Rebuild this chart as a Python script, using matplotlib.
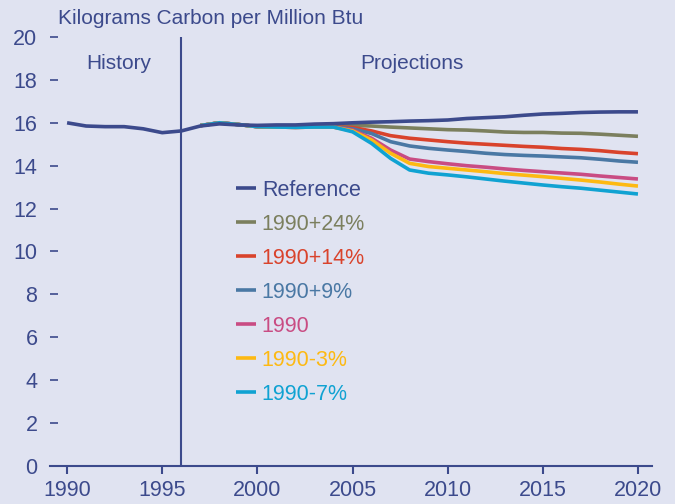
import matplotlib.pyplot as plt
import numpy as np

BG = '#e0e3f1'
NAVY = '#3c4a8c'

years_hist = np.arange(1990, 2021)
years_scen = np.arange(1997, 2021)

reference = [16.0, 15.85, 15.82, 15.82, 15.72, 15.54, 15.62, 15.85, 15.95, 15.9,
             15.88, 15.9, 15.9, 15.94, 15.96, 16.0, 16.03, 16.05, 16.08, 16.1,
             16.13, 16.2, 16.24, 16.28, 16.35, 16.41, 16.44, 16.48, 16.5, 16.51, 16.51]

common = [15.87, 16.0, 15.92, 15.82, 15.8, 15.79, 15.8, 15.8]  # 1997-2004
plus24 = common + [15.88, 15.85, 15.8, 15.76, 15.72, 15.68, 15.66, 15.62, 15.57,
                   15.55, 15.55, 15.52, 15.51, 15.47, 15.42, 15.37]
plus14 = common + [15.78, 15.62, 15.4, 15.28, 15.2, 15.12, 15.05, 15.0, 14.95,
                   14.9, 14.86, 14.8, 14.76, 14.7, 14.62, 14.56]
plus9 = common + [15.72, 15.5, 15.12, 14.92, 14.81, 14.73, 14.66, 14.58, 14.52,
                  14.48, 14.45, 14.41, 14.37, 14.3, 14.22, 14.16]
base1990 = common + [15.66, 15.28, 14.73, 14.31, 14.19, 14.09, 14.0, 13.93, 13.85,
                     13.78, 13.72, 13.66, 13.6, 13.52, 13.45, 13.38]
minus3 = common + [15.62, 15.2, 14.58, 14.11, 13.96, 13.88, 13.8, 13.72, 13.63,
                   13.56, 13.49, 13.41, 13.33, 13.24, 13.14, 13.05]
minus7 = common + [15.58, 15.04, 14.34, 13.8, 13.65, 13.57, 13.48, 13.38, 13.28,
                   13.19, 13.1, 13.02, 12.95, 12.86, 12.77, 12.68]

scenarios = [
    ('1990+24%', plus24, '#7b7f5e'),
    ('1990+14%', plus14, '#d9432c'),
    ('1990+9%', plus9, '#4a78a4'),
    ('1990', base1990, '#c94c83'),
    ('1990-3%', minus3, '#fdb913'),
    ('1990-7%', minus7, '#10a2d2'),
]

plt.rcParams['font.family'] = ['Liberation Sans', 'DejaVu Sans']

fig = plt.figure(figsize=(6.75, 5.04), dpi=100, facecolor=BG)
ax = fig.add_axes([0.074, 0.0754, 0.892, 0.8512], facecolor=BG)

handles = []
for label, vals, col in scenarios:
    h, = ax.plot(years_scen, vals, color=col, lw=2.6, label=label, solid_capstyle='butt')
    handles.append(h)
ref, = ax.plot(years_hist, reference, color=NAVY, lw=2.6, label='Reference', solid_capstyle='butt')
handles.insert(0, ref)

ax.axvline(1996, color=NAVY, lw=1.5)

ax.set_xlim(1989.1, 2020.74)
ax.set_ylim(0, 20)
ax.set_xticks(np.arange(1990, 2021, 5))
ax.set_yticks(np.arange(0, 21, 2))

for s in ['top', 'right', 'left']:
    ax.spines[s].set_visible(False)
ax.spines['bottom'].set_color(NAVY)
ax.spines['bottom'].set_linewidth(1.5)

ax.tick_params(axis='x', direction='out', length=6, width=1.5, color=NAVY,
               labelcolor=NAVY, labelsize=15.5, pad=4)
ax.tick_params(axis='y', direction='in', length=6, width=1.2, color=NAVY,
               labelcolor=NAVY, labelsize=15.5, pad=9)

fig.text(58 / 675, 1 - 19 / 504, 'Kilograms Carbon per Million Btu', color=NAVY,
         fontsize=15, ha='left', va='center')
ax.text(1992.7, 18.75, 'History', color=NAVY, fontsize=15, ha='center', va='center')
ax.text(2008.1, 18.75, 'Projections', color=NAVY, fontsize=15, ha='center', va='center')

leg = ax.legend(handles=handles, loc='upper left', bbox_to_anchor=(236 / 675, 1 - 180 / 504),
                bbox_transform=fig.transFigure, frameon=False, fontsize=15.5,
                handlelength=0.95, handletextpad=0.25, labelspacing=0.6,
                borderpad=0, borderaxespad=0, labelcolor='linecolor')

fig.savefig('out.png', dpi=100, facecolor=BG)
